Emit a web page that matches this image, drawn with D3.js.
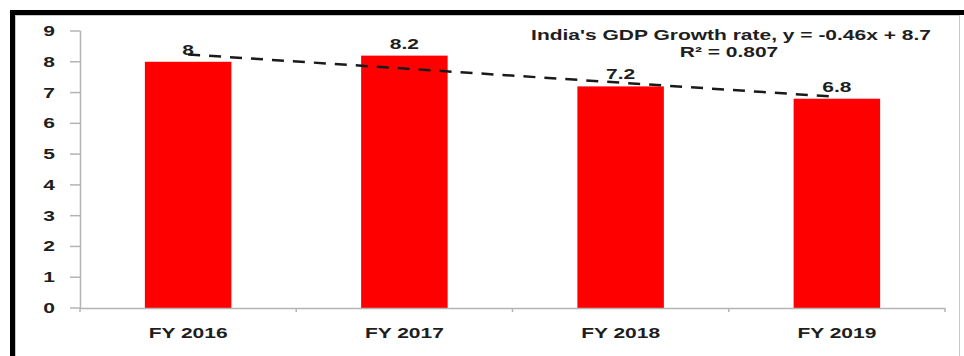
<!DOCTYPE html>
<html>
<head>
<meta charset="utf-8">
<script src="https://cdn.jsdelivr.net/npm/d3@7/dist/d3.min.js"></script>
<style>
  html, body { margin: 0; padding: 0; background: #fff; }
  svg { display: block; }
  text { font-family: "Liberation Sans", Arial, sans-serif; font-weight: bold; fill: #1e1e1e; }
</style>
</head>
<body>
<svg id="chart" width="964" height="356"></svg>
<script>
// India's GDP growth rate by fiscal year, with a linear trendline
const categories = ["FY 2016", "FY 2017", "FY 2018", "FY 2019"];
const growth = [8, 8.2, 7.2, 6.8];
const yTicks = [0, 1, 2, 3, 4, 5, 6, 7, 8, 9];
const trendSlope = -0.46;
const trendIntercept = 8.7;
const trendLabel = "India's GDP Growth rate, y = -0.46x + 8.7";
const r2Label = "R\u00B2 = 0.807";

const W = 964, H = 356;
const svg = d3.select("#chart");
const stretch = 1.5; // text is drawn widened horizontally
const fontSize = 14;

// frame: heavy black top/left edges with a thin grey inner line
svg.append("rect").attr("x", 12.5).attr("y", 12.5).attr("width", W).attr("height", H)
  .attr("fill", "#fff").attr("stroke", "#000").attr("stroke-width", 5);
svg.append("rect").attr("x", 15.5).attr("y", 15.5).attr("width", 944).attr("height", H)
  .attr("fill", "none").attr("stroke", "#c8c8c8").attr("stroke-width", 1);

const x = d3.scaleBand().domain(categories).range([80, 945]).paddingInner(0.6).paddingOuter(0.3);
const y = d3.scaleLinear().domain([0, 9]).range([308, 31]);

function stretchedText(g, px, py, str, anchor) {
  const t = g.append("g").attr("transform", `translate(${px},${py}) scale(${stretch},1)`);
  t.append("text").attr("text-anchor", anchor).attr("font-size", fontSize).text(str);
  return t;
}

const axisColor = "#b4b4b4";

// y axis
svg.append("line").attr("x1", 80.5).attr("x2", 80.5).attr("y1", y(9)).attr("y2", y(0))
  .attr("stroke", axisColor).attr("stroke-width", 1.5);
const yg = svg.append("g");
yTicks.forEach(v => {
  yg.append("line").attr("x1", 70).attr("x2", 80.5).attr("y1", y(v)).attr("y2", y(v))
    .attr("stroke", axisColor).attr("stroke-width", 1.5);
  stretchedText(yg, 55, y(v) + 5, String(v), "end");
});

// bars
svg.append("g").selectAll("rect").data(growth).join("rect")
  .attr("x", (d, i) => x(categories[i]))
  .attr("y", d => y(d))
  .attr("width", x.bandwidth())
  .attr("height", d => y(0) - y(d))
  .attr("fill", "#ff0000");

// x axis with ticks between categories
const step = x.step();
const x0 = x.range()[0];
svg.append("line").attr("x1", x0).attr("x2", x.range()[1]).attr("y1", y(0) + 0.5).attr("y2", y(0) + 0.5)
  .attr("stroke", axisColor).attr("stroke-width", 1.5);
d3.range(categories.length + 1).forEach(i => {
  const tx = x0 + i * step;
  svg.append("line").attr("x1", tx).attr("x2", tx).attr("y1", y(0)).attr("y2", y(0) + 4)
    .attr("stroke", axisColor).attr("stroke-width", 1.5);
});
const xg = svg.append("g");
categories.forEach(c => stretchedText(xg, x(c) + x.bandwidth() / 2, 338, c, "middle"));

// value labels
const lg = svg.append("g");
growth.forEach((v, i) => stretchedText(lg, x(categories[i]) + x.bandwidth() / 2, y(v) - 7, String(v), "middle"));

// linear trendline across category positions 1..n
const cx = i => x(categories[i]) + x.bandwidth() / 2;
const trendPts = categories.map((c, i) => [cx(i), y(trendSlope * (i + 1) + trendIntercept)]);
svg.append("path").attr("d", d3.line()(trendPts))
  .attr("fill", "none").attr("stroke", "#1a1a1a").attr("stroke-width", 2.5)
  .attr("stroke-dasharray", "12,9");

// trendline equation
stretchedText(svg, 731, 40, trendLabel, "middle");
stretchedText(svg, 729, 57, r2Label, "middle");
</script>
</body>
</html>
